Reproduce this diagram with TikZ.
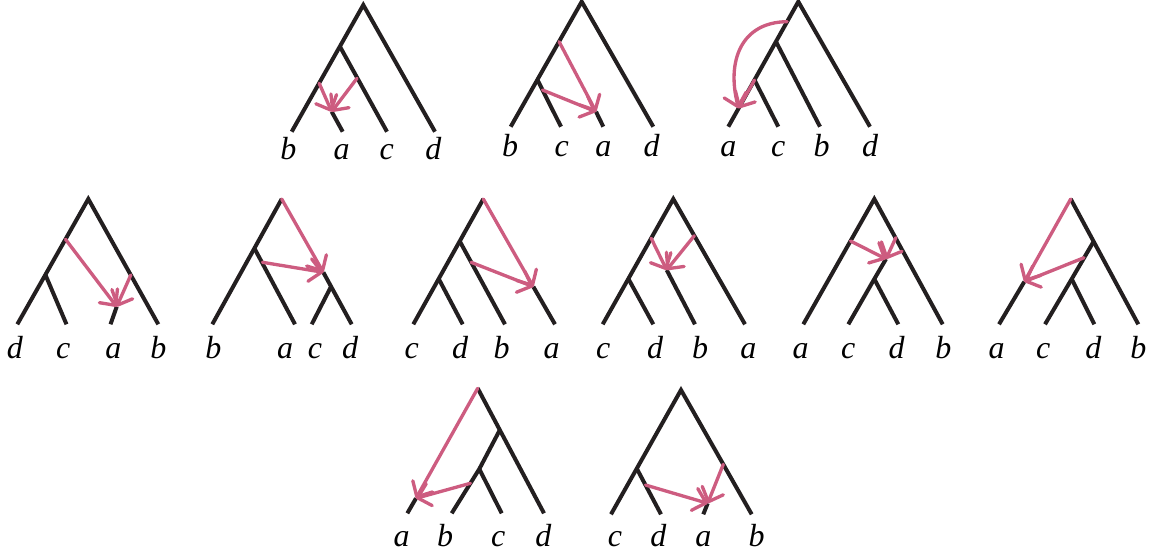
\documentclass[tikz,border=0pt]{standalone}
\usepackage{fontspec}
\setmainfont{Liberation Serif}
\usetikzlibrary{arrows.meta}

\definecolor{branchcol}{RGB}{35,31,32}
\definecolor{movecol}{RGB}{205,92,128}

\tikzset{every picture/.style={line width=0.75pt}}

\begin{document}
\begin{tikzpicture}[x=0.75pt,y=0.75pt,yscale=-1,xscale=1,
	branch/.style={draw=branchcol, line width=3pt, line join=miter},
	move/.style={draw=movecol, line width=2.5pt, line cap=round, -{Straight Barb[length=9pt,width=17pt,round]}},
	leaf/.style={font=\itshape\fontsize{24}{24}\selectfont, anchor=base, inner sep=0pt}]
	\useasboundingbox (0,0) rectangle (1156,556);

	% Tree 1: b a c d
	\coordinate (t1r) at (363.3,5);
	\coordinate (t1u) at (340,46.7);
	\coordinate (t1b) at (291.7,131.7);
	\coordinate (t1c) at (387,131.7);
	\coordinate (t1d) at (435,131.7);
	\coordinate (t1s) at (331.7,111.7);
	\coordinate (t1a) at (342.7,131.7);
	\coordinate (t1m1) at (319.2,83.3);
	\coordinate (t1m2) at (357,78.3);
	\draw [branch] (t1b) -- (t1r) -- (t1d);
	\draw [branch] (t1u) -- (t1c);
	\draw [branch] (t1s) -- (t1a);
	\draw [move] (t1m1) -- (t1s);
	\draw [move] (t1m2) -- (t1s);

	% Tree 2: b c a d
	\coordinate (t2r) at (581.7,1.7);
	\coordinate (t2u) at (537.5,80);
	\coordinate (t2b) at (510.7,126.7);
	\coordinate (t2c) at (561,126.7);
	\coordinate (t2d) at (653.3,126.7);
	\coordinate (t2s) at (596,111.7);
	\coordinate (t2a) at (603.3,126.7);
	\coordinate (t2m1) at (559.1,41.7);
	\coordinate (t2m2) at (542.5,90);
	\draw [branch] (t2b) -- (t2r) -- (t2d);
	\draw [branch] (t2u) -- (t2c);
	\draw [branch] (t2s) -- (t2a);
	\draw [move] (t2m1) -- (t2s);
	\draw [move] (t2m2) -- (t2s);

	% Tree 3: a c b d
	\coordinate (t3r) at (798.3,1.7);
	\coordinate (t3u1) at (776,41.7);
	\coordinate (t3u2) at (754.5,80);
	\coordinate (t3a) at (728.3,126.7);
	\coordinate (t3c) at (778.3,126.7);
	\coordinate (t3b) at (820,126.7);
	\coordinate (t3d) at (870,126.7);
	\coordinate (t3m1) at (787.1,21.7);
	\coordinate (t3t) at (738.6,108.3);
	\draw [branch] (t3a) -- (t3r) -- (t3d);
	\draw [branch] (t3u1) -- (t3b);
	\draw [branch] (t3u2) -- (t3c);
	\draw [move] (t3m1) .. controls (742,22) and (726,60) .. (t3t);
	\draw [move] (t3u2) -- (t3t);

	% Tree 4: d c a b
	\coordinate (t4r) at (88.3,199);
	\coordinate (t4u) at (45.5,275);
	\coordinate (t4d) at (17.3,324.3);
	\coordinate (t4c) at (66.5,324.3);
	\coordinate (t4b) at (158.3,324.3);
	\coordinate (t4s) at (116.7,306.7);
	\coordinate (t4a) at (110.5,324.3);
	\coordinate (t4m1) at (65.5,239.3);
	\coordinate (t4m2) at (130.8,275);
	\draw [branch] (t4d) -- (t4r) -- (t4b);
	\draw [branch] (t4u) -- (t4c);
	\draw [branch] (t4s) -- (t4a);
	\draw [move] (t4m1) -- (t4s);
	\draw [move] (t4m2) -- (t4s);

	% Tree 5: b a | c d
	\coordinate (t5r) at (281.7,199);
	\coordinate (t5u) at (254.4,248.3);
	\coordinate (t5b) at (212.3,324.3);
	\coordinate (t5a) at (295,324.3);
	\coordinate (t5s) at (323.3,272.3);
	\coordinate (t5v) at (331,286.7);
	\coordinate (t5c) at (311.7,324.3);
	\coordinate (t5d) at (351.7,324.3);
	\coordinate (t5m2) at (262.4,262.3);
	\draw [branch] (t5b) -- (t5r);
	\draw [branch] (t5u) -- (t5a);
	\draw [branch] (t5s) -- (t5d);
	\draw [branch] (t5v) -- (t5c);
	\draw [move] (t5r) -- (t5s);
	\draw [move] (t5m2) -- (t5s);

	% Tree 6: c d b | a
	\coordinate (t6r) at (483.3,199);
	\coordinate (t6u1) at (460,241.7);
	\coordinate (t6u2) at (438.8,279);
	\coordinate (t6c) at (413.3,324.3);
	\coordinate (t6d) at (462.7,324.3);
	\coordinate (t6b) at (505,324.3);
	\coordinate (t6s) at (533.3,286.7);
	\coordinate (t6a) at (555,324.3);
	\coordinate (t6m2) at (471.1,262.3);
	\draw [branch] (t6c) -- (t6r);
	\draw [branch] (t6u1) -- (t6b);
	\draw [branch] (t6u2) -- (t6d);
	\draw [branch] (t6s) -- (t6a);
	\draw [move] (t6r) -- (t6s);
	\draw [move] (t6m2) -- (t6s);

	% Tree 7: c d b a
	\coordinate (t7r) at (673.3,199);
	\coordinate (t7u) at (628.5,279);
	\coordinate (t7c) at (602.7,324.3);
	\coordinate (t7d) at (653.3,324.3);
	\coordinate (t7a) at (745,324.3);
	\coordinate (t7s) at (666.7,270);
	\coordinate (t7b) at (695,324.3);
	\coordinate (t7m1) at (651.2,238.3);
	\coordinate (t7m2) at (694.3,235.7);
	\draw [branch] (t7c) -- (t7r) -- (t7a);
	\draw [branch] (t7u) -- (t7d);
	\draw [branch] (t7s) -- (t7b);
	\draw [move] (t7m1) -- (t7s);
	\draw [move] (t7m2) -- (t7s);

	% Tree 8: a c d b
	\coordinate (t8r) at (874.3,199);
	\coordinate (t8a) at (803.3,324.3);
	\coordinate (t8b) at (942.7,324.3);
	\coordinate (t8s) at (886,259);
	\coordinate (t8v) at (874.3,279);
	\coordinate (t8c) at (848.3,324.3);
	\coordinate (t8d) at (898.3,324.3);
	\coordinate (t8m1) at (850.5,241);
	\coordinate (t8m2) at (895.8,237.7);
	\draw [branch] (t8a) -- (t8r) -- (t8b);
	\draw [branch] (t8s) -- (t8v) -- (t8c);
	\draw [branch] (t8v) -- (t8d);
	\draw [move] (t8m1) -- (t8s);
	\draw [move] (t8m2) -- (t8s);

	% Tree 9: a | c d b
	\coordinate (t9r) at (1070.7,199);
	\coordinate (t9u1) at (1093.5,241.7);
	\coordinate (t9u2) at (1071.7,279);
	\coordinate (t9c) at (1045,324.3);
	\coordinate (t9d) at (1094.3,324.3);
	\coordinate (t9b) at (1138.3,324.3);
	\coordinate (t9s) at (1024.3,281.7);
	\coordinate (t9a) at (999,324.3);
	\coordinate (t9m2) at (1084,257.7);
	\draw [branch] (t9r) -- (t9b);
	\draw [branch] (t9u1) -- (t9u2) -- (t9c);
	\draw [branch] (t9u2) -- (t9d);
	\draw [branch] (t9s) -- (t9a);
	\draw [move] (t9r) -- (t9s);
	\draw [move] (t9m2) -- (t9s);

	% Tree 10: a | b c d
	\coordinate (t10r) at (477.7,388.3);
	\coordinate (t10u1) at (499.8,430);
	\coordinate (t10u2) at (479.3,469);
	\coordinate (t10b) at (451.7,513.3);
	\coordinate (t10c) at (501.7,513.3);
	\coordinate (t10d) at (544,513.3);
	\coordinate (t10s) at (416,498.3);
	\coordinate (t10a) at (407.3,513.3);
	\coordinate (t10m2) at (470.4,483.3);
	\draw [branch] (t10r) -- (t10d);
	\draw [branch] (t10u1) -- (t10u2) -- (t10b);
	\draw [branch] (t10u2) -- (t10c);
	\draw [branch] (t10s) -- (t10a);
	\draw [move] (t10r) -- (t10s);
	\draw [move] (t10m2) -- (t10s);

	% Tree 11: c d a b
	\coordinate (t11r) at (681,390);
	\coordinate (t11u) at (637,469);
	\coordinate (t11c) at (611,514.3);
	\coordinate (t11d) at (661,514.3);
	\coordinate (t11b) at (751.7,514.3);
	\coordinate (t11s) at (707.7,503.3);
	\coordinate (t11a) at (703.3,514.3);
	\coordinate (t11m1) at (645.5,485);
	\coordinate (t11m2) at (723.3,464.3);
	\draw [branch] (t11c) -- (t11r) -- (t11b);
	\draw [branch] (t11u) -- (t11d);
	\draw [branch] (t11s) -- (t11a);
	\draw [move] (t11m1) -- (t11s);
	\draw [move] (t11m2) -- (t11s);

	% Text Node
	\node [leaf] (l1b) at (288.3,160) {b};
	\node [leaf] (l1a) at (341.7,160) {a};
	\node [leaf] (l1c) at (386.7,160) {c};
	\node [leaf] (l1d) at (433.3,160) {d};
	% Text Node
	\node [leaf] (l2b) at (510,156.5) {b};
	\node [leaf] (l2c) at (561.7,156.5) {c};
	\node [leaf] (l2a) at (603.3,156.5) {a};
	\node [leaf] (l2d) at (651.7,156.5) {d};
	% Text Node
	\node [leaf] (l3a) at (728.3,156.5) {a};
	\node [leaf] (l3c) at (778.3,156.5) {c};
	\node [leaf] (l3b) at (821.7,156.5) {b};
	\node [leaf] (l3d) at (870,156.5) {d};
	% Text Node
	\node [leaf] (l4d) at (15,358) {d};
	\node [leaf] (l4c) at (63.3,358) {c};
	\node [leaf] (l4a) at (113.3,358) {a};
	\node [leaf] (l4b) at (158.3,358) {b};
	% Text Node
	\node [leaf] (l5b) at (213.3,358) {b};
	\node [leaf] (l5a) at (285,358) {a};
	\node [leaf] (l5c) at (315,358) {c};
	\node [leaf] (l5d) at (350,358) {d};
	% Text Node
	\node [leaf] (l6c) at (411.7,358) {c};
	\node [leaf] (l6d) at (460,358) {d};
	\node [leaf] (l6b) at (501.7,358) {b};
	\node [leaf] (l6a) at (551.7,358) {a};
	% Text Node
	\node [leaf] (l7c) at (603.3,358) {c};
	\node [leaf] (l7d) at (655,358) {d};
	\node [leaf] (l7b) at (700,358) {b};
	\node [leaf] (l7a) at (748.3,358) {a};
	% Text Node
	\node [leaf] (l8a) at (800.7,358) {a};
	\node [leaf] (l8c) at (848.3,358) {c};
	\node [leaf] (l8d) at (896.7,358) {d};
	\node [leaf] (l8b) at (943.3,358) {b};
	% Text Node
	\node [leaf] (l9a) at (996.7,358) {a};
	\node [leaf] (l9c) at (1043.3,358) {c};
	\node [leaf] (l9d) at (1093.3,358) {d};
	\node [leaf] (l9b) at (1138.3,358) {b};
	% Text Node
	\node [leaf] (l10a) at (401.7,546.5) {a};
	\node [leaf] (l10b) at (445,546.5) {b};
	\node [leaf] (l10c) at (498.3,546.5) {c};
	\node [leaf] (l10d) at (543.3,546.5) {d};
	% Text Node
	\node [leaf] (l11c) at (615,546.5) {c};
	\node [leaf] (l11d) at (658.3,546.5) {d};
	\node [leaf] (l11a) at (703.3,546.5) {a};
	\node [leaf] (l11b) at (756.7,546.5) {b};

\end{tikzpicture}
\end{document}
